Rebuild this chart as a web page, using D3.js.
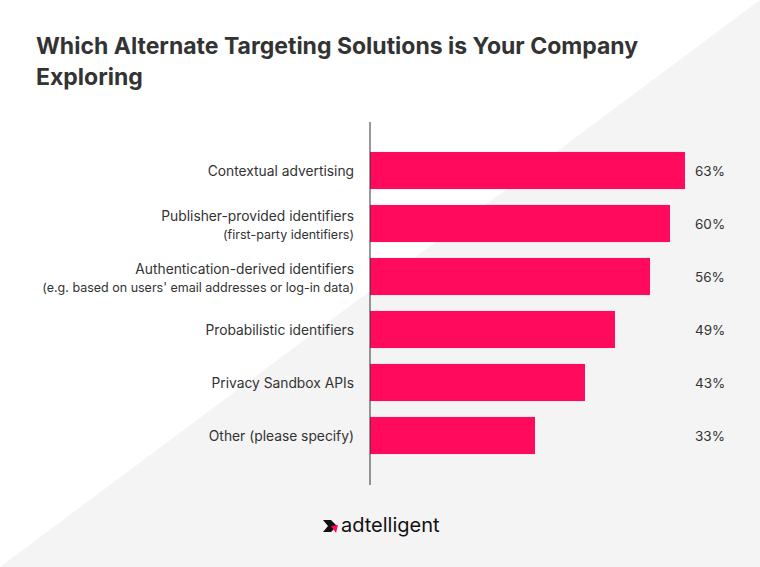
<!DOCTYPE html><html><head><meta charset="utf-8"><script src="https://cdn.jsdelivr.net/npm/d3@7"></script>
<style>body{margin:0}svg{font-family:Inter,"Noto Sans",sans-serif}</style></head><body><svg id="c" width="760" height="567"></svg>
<script>
const categories=["Contextual advertising","Publisher-provided identifiers","Authentication-derived identifiers","Probabilistic identifiers","Privacy Sandbox APIs","Other (please specify)"];
const subtitles=["","(first-party identifiers)","(e.g. based on users' email addresses or log-in data)","","",""];
const values=[63,60,56,49,43,33];
const svg=d3.select("#c");
svg.append("rect").attr("width",760).attr("height",567).attr("fill","#fff");
svg.append("path").attr("d","M760,0L760,567L0,567Z").attr("fill","#f4f4f4");
svg.append("text").attr("x",36).attr("y",54).attr("font-size",23).attr("font-weight",700).attr("fill","#333").text("Which Alternate Targeting Solutions is Your Company");
svg.append("text").attr("x",36).attr("y",85).attr("font-size",23).attr("font-weight",700).attr("fill","#333").text("Exploring");
const x=d3.scaleLinear().domain([0,100]).range([370,870]);
const y=d3.scaleBand().domain(categories).range([144,462]).paddingInner(0.3).paddingOuter(0.15);
svg.selectAll(".bar").data(values).join("rect").attr("x",x(0)).attr("y",(d,i)=>y(categories[i])).attr("width",d=>x(d)-x(0)).attr("height",y.bandwidth()).attr("fill","#ff0a5c");
svg.append("line").attr("x1",370).attr("x2",370).attr("y1",122).attr("y2",485).attr("stroke","#333").attr("stroke-width",1);
categories.forEach((c,i)=>{const cy=y(c)+y.bandwidth()/2;
 const t=svg.append("text").attr("x",354).attr("text-anchor","end").attr("font-size",13.8).attr("fill","#333");
 if(subtitles[i]){t.append("tspan").attr("x",354).attr("y",cy-3).text(c);t.append("tspan").attr("x",354).attr("y",cy+15).attr("font-size",12.5).text(subtitles[i]);}
 else t.attr("y",cy+5).text(c);
 svg.append("text").attr("x",695).attr("y",cy+5).attr("font-size",13.5).attr("fill","#333").text(values[i]+"%");
});
const g=svg.append("g");
g.append("path").attr("d","M323,520l8,0l6,6l-6,6l-8,0l5,-6z").attr("fill","#111");
g.append("path").attr("d","M331,526l7,-1l-2,8z").attr("fill","#ff0a5c");
g.append("text").attr("x",341).attr("y",532).attr("font-size",20).attr("font-weight",400).attr("fill","#111").text("adtelligent");
</script></body></html>
